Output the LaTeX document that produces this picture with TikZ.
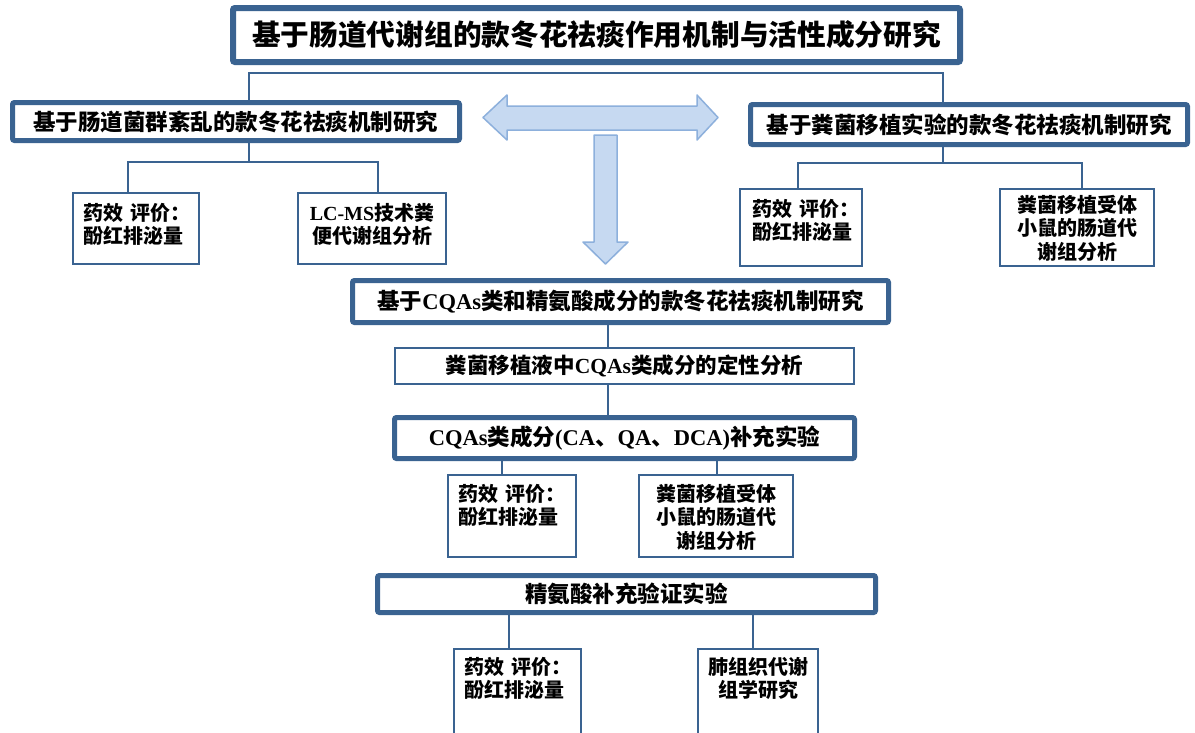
\documentclass[tikz,border=0pt]{standalone}
\usepackage{fontspec}
\setmainfont{Liberation Serif}
\newfontfamily\cjk{Noto Sans CJK SC}
\newfontfamily\lat{Liberation Serif}
\newcommand\La[1]{{\lat\bfseries #1}}
\usetikzlibrary{calc}
\definecolor{bd}{HTML}{3A6391}
\definecolor{af}{HTML}{C6D9F1}
\definecolor{ab}{HTML}{8DB0DC}
\begin{document}
\begin{tikzpicture}[x=1pt,y=-1pt,
  thickbox/.style={draw=bd, line width=5pt, rounded corners=2pt, fill=white, inner sep=0pt,
    font=\cjk\bfseries\fontsize{22.5}{26}\selectfont},
  thinbox/.style={draw=bd, line width=2pt, fill=white, inner sep=0pt},
  midbox/.style={thinbox, font=\cjk\bfseries\fontsize{21.5}{26}\selectfont},
  conn/.style={draw=bd, line width=2.5pt},
  small/.style={font=\cjk\bfseries\fontsize{20}{23.5}\selectfont, inner sep=0pt, outer sep=0pt},
  bigarrow/.style={fill=af, draw=ab, line width=1.5pt, line join=round}]
\useasboundingbox (0,0) rectangle (1195,732);
\clip (0,0) rectangle (1195,732);
\fill[white] (0,0) rectangle (1195,732);

% title
\node[thickbox, line width=6pt, minimum width=727pt, minimum height=54pt,
  font=\cjk\bfseries\fontsize{28.7}{32}\selectfont] (T) at (596.5,35)
  {基于肠道代谢组的款冬花祛痰作用机制与活性成分研究};

% level 2
\node[thickbox, minimum width=447pt, minimum height=38pt] (L) at (236,121.5)
  {基于肠道菌群紊乱的款冬花祛痰机制研究};
\node[thickbox, minimum width=437pt, minimum height=40pt] (R) at (969,124.5)
  {基于粪菌移植实验的款冬花祛痰机制研究};
\coordinate (jL) at (249,73);
\coordinate (jR) at (943,73);
\draw[conn] (L.north -| jL) -- (jL) -- (jR) -- (R.north -| jR);

% left children
\node[thinbox, minimum width=126pt, minimum height=71pt, anchor=north west] (L1) at (72,192) {};
\node[thinbox, minimum width=148pt, minimum height=71pt, anchor=north west] (L2) at (297,192) {};
\node[small, anchor=north west, align=left] (L1t) at ($(L1.north west)+(11,11)$)
  {药效\hspace{.4em}评价：\\酚红排泌量};
\node[small, anchor=north, align=center] (L2t) at ($(L2.north)+(0,11)$)
  {\La{LC-MS}技术粪\\便代谢组分析};
\coordinate (kL) at (249,162);
\coordinate (kL1) at (128,162);
\coordinate (kL2) at (378,162);
\draw[conn] (L.south -| kL) -- (kL);
\draw[conn] (L1.north -| kL1) -- (kL1) -- (kL2) -- (L2.north -| kL2);

% right children
\node[thinbox, minimum width=122pt, minimum height=77pt, anchor=north west] (R1) at (739,188) {};
\node[thinbox, minimum width=154pt, minimum height=77pt, anchor=north west] (R2) at (999,188) {};
\node[small, anchor=north west, align=left] (R1t) at ($(R1.north west)+(13,11)$)
  {药效\hspace{.4em}评价：\\酚红排泌量};
\node[small, anchor=north, align=center] (R2t) at ($(R2.north)+(0,7)$)
  {粪菌移植受体\\小鼠的肠道代\\谢组分析};
\coordinate (kR) at (943,163);
\coordinate (kR1) at (798,163);
\coordinate (kR2) at (1082,163);
\draw[conn] (R.south -| kR) -- (kR);
\draw[conn] (R1.north -| kR1) -- (kR1) -- (kR2) -- (R2.north -| kR2);

% block arrows
\draw[bigarrow] (483,117.5) -- (507,95) -- (507,106) -- (697,106) -- (697,95) -- (718,117.5)
  -- (697,140) -- (697,130) -- (507,130) -- (507,140) -- cycle;
\draw[bigarrow] (594,135) -- (617,135) -- (617,242) -- (628,242) -- (605.5,264)
  -- (583,242) -- (594,242) -- cycle;

% middle column
\node[thickbox, minimum width=536pt, minimum height=42pt] (M) at (620.5,301.5)
  {基于\La{CQAs}类和精氨酸成分的款冬花祛痰机制研究};
\node[midbox, minimum width=459pt, minimum height=36pt] (M2) at (624.5,366)
  {粪菌移植液中\La{CQAs}类成分的定性分析};
\node[thickbox, minimum width=460pt, minimum height=41pt] (M3) at (624.5,438)
  {\La{CQAs}类成分\La{(CA}、\La{QA}、\La{DCA)}补充实验};
\coordinate (xm) at (608,0);
\draw[conn] (M.south -| xm) -- (M2.north -| xm);
\draw[conn] (M2.south -| xm) -- (M3.north -| xm);

\node[thinbox, minimum width=128pt, minimum height=82pt, anchor=north west] (B1) at (447,474) {};
\node[thinbox, minimum width=154pt, minimum height=82pt, anchor=north west] (B2) at (638,474) {};
\node[small, anchor=north west, align=left] (B1t) at ($(B1.north west)+(11,10)$)
  {药效\hspace{.4em}评价：\\酚红排泌量};
\node[small, anchor=north, align=center] (B2t) at ($(B2.north)+(0,10)$)
  {粪菌移植受体\\小鼠的肠道代\\谢组分析};
\coordinate (xb1) at (502,0);
\coordinate (xb2) at (717,0);
\draw[conn] (M3.south -| xb1) -- (B1.north -| xb1);
\draw[conn] (M3.south -| xb2) -- (B2.north -| xb2);

% arginine
\node[thickbox, minimum width=498pt, minimum height=37pt] (A) at (626.5,594)
  {精氨酸补充验证实验};
\node[thinbox, minimum width=127pt, minimum height=100pt, anchor=north west] (C1) at (453,648) {};
\node[thinbox, minimum width=120pt, minimum height=100pt, anchor=north west] (C2) at (697,648) {};
\node[small, anchor=north west, align=left] (C1t) at ($(C1.north west)+(11,9)$)
  {药效\hspace{.4em}评价：\\酚红排泌量};
\node[small, anchor=north, align=center] (C2t) at ($(C2.north)+(0,9)$)
  {肺组织代谢\\组学研究};
\coordinate (xc1) at (509,0);
\coordinate (xc2) at (753,0);
\draw[conn] (A.south -| xc1) -- (C1.north -| xc1);
\draw[conn] (A.south -| xc2) -- (C2.north -| xc2);
\end{tikzpicture}
\end{document}
